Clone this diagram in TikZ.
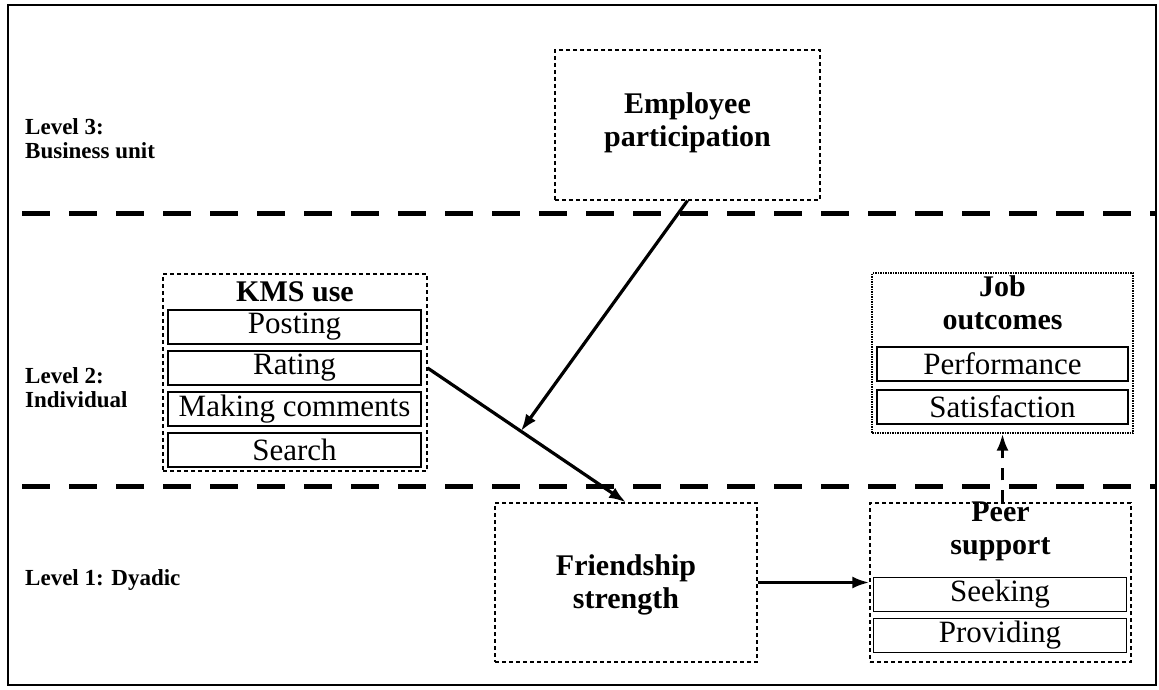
\documentclass[tikz,border=0pt]{standalone}
\usepackage{fontspec}
\setmainfont{Liberation Serif}
\usetikzlibrary{arrows,arrows.meta}
\tikzset{
    block/.style = {draw, rectangle, dash pattern=on 4pt off 3pt,
        line width=1.2pt, inner sep=0pt},
    item/.style = {draw, rectangle, line width=1.4pt, inner sep=0pt,
        minimum width=253, minimum height=34,
        font=\fontsize{31}{33}\selectfont},
    title/.style = {align=center, inner sep=0pt,
        font=\fontsize{30}{33}\selectfont\bfseries},
    level/.style = {anchor=west, align=left, inner sep=0pt,
        font=\fontsize{23}{24}\selectfont\bfseries},
    sep/.style = {line width=5pt, dash pattern=on 28pt off 19pt},
    arrow/.style = {draw, -{Latex[length=17pt,width=12pt]}, line width=3.2pt}
}

\begin{document}
\begin{tikzpicture}[x=1pt,y=-1pt]
            \useasboundingbox (0,0) rectangle (1159,690);
            \draw[line width=2.5pt] (8,5) rectangle (1156,685);
            % levels
            \draw[sep] (22,213) -- (1156,213);
            \draw[sep] (22,486) -- (1156,486);
            \node[level] (lev3) at (25,139) {Level 3:\\Business unit};
            \node[level] (lev2) at (25,388) {Level 2:\\Individual};
            \node[level] (lev1) at (25,580) {Level 1: Dyadic};
            % business unit
            \node[block, minimum width=265, minimum height=150] (emp) at (687.5,125) {};
            \node[title] (empt) at (687.5,123) {Employee\\participation};
            % KMS use
            \node[block, minimum width=264, minimum height=197] (kms) at (295,372.5) {};
            \node[title] (kmst) at (295,292) {KMS use};
            \node[item] (post) at (294.5,327) {Posting};
            \node[item] (rate) at (294.5,368) {Rating};
            \node[item] (comm) at (294.5,409) {Making comments};
            \node[item] (srch) at (294.5,450) {Search};
            % job outcomes
            \node[block, dash pattern=on 1.5pt off 1pt, minimum width=261, minimum height=160] (job) at (1002.5,353) {};
            \node[title] (jobt) at (1002.5,303) {Job\\outcomes};
            \node[item, minimum width=251] (perf) at (1002.5,364) {Performance};
            \node[item, minimum width=251] (sat) at (1002.5,407) {Satisfaction};
            % dyadic
            \node[block, minimum width=262, minimum height=159] (friend) at (626,582.5) {};
            \node[title] (friendt) at (626,585) {Friendship\\strength};
            \node[block, minimum width=261, minimum height=159] (peer) at (1000.5,582.5) {};
            \node[title] (peert) at (1000.5,531) {Peer\\support};
            \node[item] (seek) at (1000,594.5) {Seeking};
            \node[item] (prov) at (1000,635.5) {Providing};
            % paths
            \path (kms.east |- rate) -- coordinate[pos=0.47] (mid) (friend.north);
            \draw[arrow] (kms.east |- rate) -- (friend.north);
            \draw[arrow] (emp.south) -- (mid);
            \draw[arrow] (friend.east) -- (peer.west);
            \draw[arrow, dash pattern=on 12pt off 10pt] (peer.north -| job.south) -- (job.south);
        \end{tikzpicture}
\end{document}
